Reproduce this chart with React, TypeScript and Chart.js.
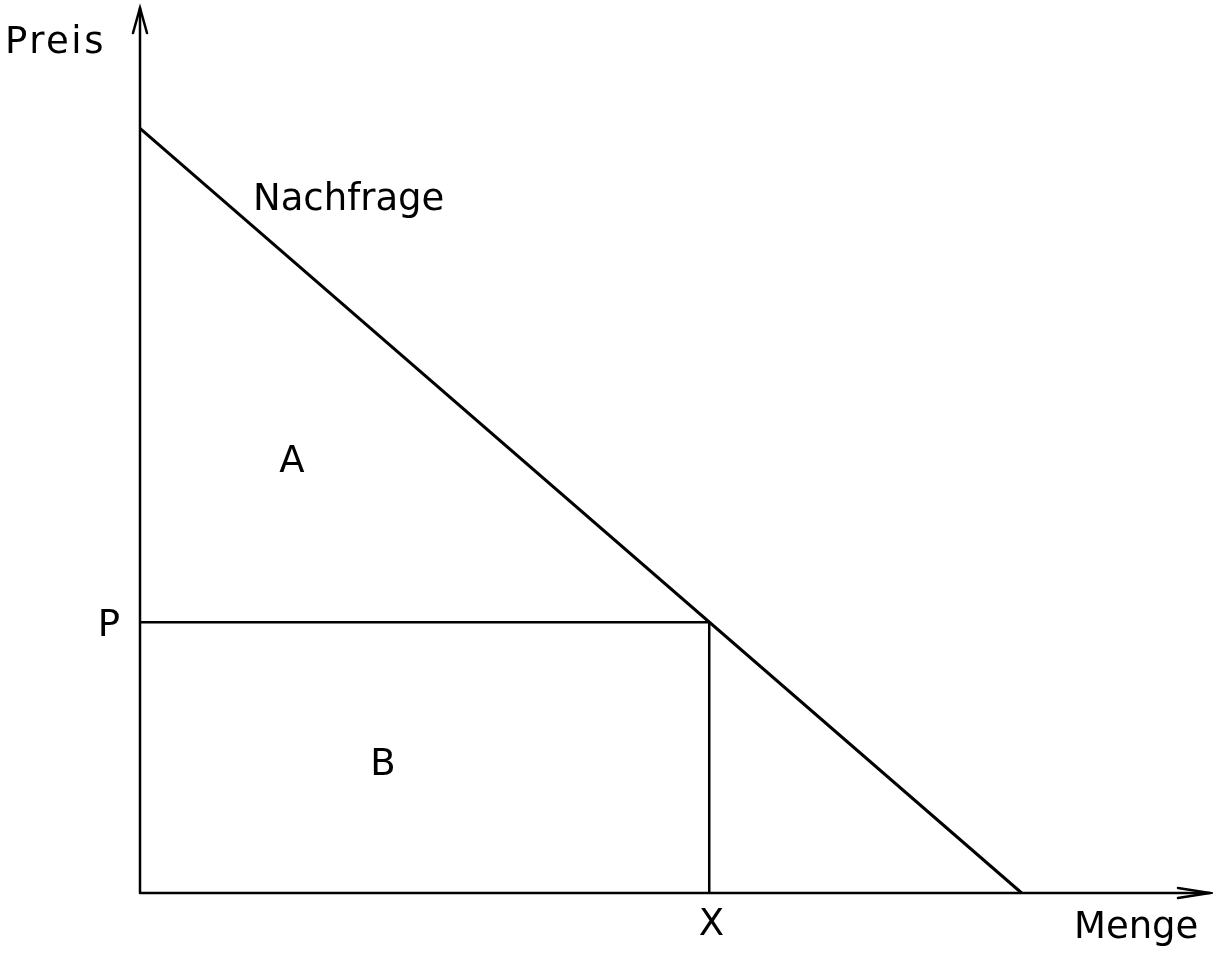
import React, { useEffect, useRef } from "react";
import { Chart, registerables } from "chart.js";

Chart.register(...registerables);

// Demand curve (Nachfrage): price intercept and quantity intercept
const demandX = [0, 82.4];
const demandY = [86.4, 0];

// Equilibrium point
const quantityX = 53.2;
const priceP = 30.6;

// Text labels (data coordinates, baseline anchored)
const labelTexts = ["Preis", "Nachfrage", "A", "B", "P", "X", "Menge"];
const labelX = [-7.9, 19.5, 14.2, 22.7, -2.9, 53.4, 93.1];
const labelY = [94.9, 77.2, 47.6, 13.3, 29.0, -4.7, -5.1];
const labelSpacing = [2.5, 0, 0, 0, 0, 0, 0];

const X_MAX = 100;
const Y_MAX = 100;

const overlayPlugin = {
  id: "overlay",
  afterDraw(chart: any) {
    const ctx = chart.ctx as CanvasRenderingContext2D;
    const xs = chart.scales.x;
    const ys = chart.scales.y;
    const x0 = xs.getPixelForValue(0);
    const y0 = ys.getPixelForValue(0);
    const xEnd = xs.getPixelForValue(X_MAX);
    const yEnd = ys.getPixelForValue(Y_MAX);
    ctx.save();
    ctx.strokeStyle = "#000";
    ctx.lineWidth = 2.5;
    ctx.lineCap = "round";
    // axes
    ctx.beginPath();
    ctx.moveTo(x0, y0);
    ctx.lineTo(x0, yEnd);
    ctx.moveTo(x0, y0);
    ctx.lineTo(xEnd, y0);
    ctx.stroke();
    // arrow heads
    ctx.beginPath();
    ctx.moveTo(x0 - 7, yEnd + 25);
    ctx.lineTo(x0, yEnd);
    ctx.lineTo(x0 + 7, yEnd + 25);
    ctx.moveTo(xEnd - 32, y0 - 5);
    ctx.lineTo(xEnd, y0);
    ctx.lineTo(xEnd - 32, y0 + 5);
    ctx.stroke();
    // labels
    ctx.fillStyle = "#000";
    ctx.font = "37px 'DejaVu Sans'";
    ctx.textAlign = "center";
    ctx.textBaseline = "alphabetic";
    labelTexts.forEach((t, i) => {
      (ctx as any).letterSpacing = labelSpacing[i] + "px";
      ctx.fillText(t, xs.getPixelForValue(labelX[i]), ys.getPixelForValue(labelY[i]));
    });
    ctx.restore();
  },
};

export default function App() {
  const ref = useRef<HTMLCanvasElement | null>(null);
  useEffect(() => {
    document.body.style.margin = "0";
    const canvas = ref.current!;
    const chart = new Chart(canvas, {
      type: "scatter",
      data: {
        datasets: [
          {
            label: "Nachfrage",
            data: demandX.map((x, i) => ({ x, y: demandY[i] })),
            showLine: true,
            borderColor: "#000",
            borderWidth: 3,
            pointRadius: 0,
            clip: false as any,
          },
          {
            label: "Preis P",
            data: [
              { x: 0, y: priceP },
              { x: quantityX, y: priceP },
            ],
            showLine: true,
            borderColor: "#000",
            borderWidth: 2.5,
            pointRadius: 0,
            clip: false as any,
          },
          {
            label: "Menge X",
            data: [
              { x: quantityX, y: priceP },
              { x: quantityX, y: 0 },
            ],
            showLine: true,
            borderColor: "#000",
            borderWidth: 2.5,
            pointRadius: 0,
            clip: false as any,
          },
        ],
      },
      options: {
        responsive: false,
        animation: false,
        layout: { padding: { left: 140, top: 8, right: 3, bottom: 61 } },
        plugins: { legend: { display: false }, tooltip: { enabled: false } },
        scales: {
          x: { type: "linear", min: 0, max: X_MAX, display: false },
          y: { type: "linear", min: 0, max: Y_MAX, display: false },
        },
      },
      plugins: [overlayPlugin],
    });
    return () => chart.destroy();
  }, []);
  return (
    <div style={{ position: "absolute", left: 0, top: 0, width: 1213, height: 954, background: "#fff" }}>
      <canvas ref={ref} width={1213} height={954} />
    </div>
  );
}
